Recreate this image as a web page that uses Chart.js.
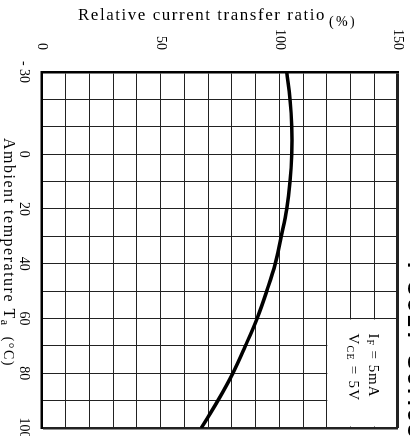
<!DOCTYPE html>
<html>
<head>
<meta charset="utf-8">
<script src="https://cdn.jsdelivr.net/npm/chart.js@4.4.1/dist/chart.umd.min.js"></script>
<style>
  html, body { margin: 0; padding: 0; background: #fff; overflow: hidden; }
  /* the datasheet plot is printed turned a quarter turn, so draw it upright and rotate */
  #wrap {
    position: absolute; left: 0; top: 0;
    width: 436px; height: 410px;
    transform-origin: 0 0;
    transform: translate(410px, 0) rotate(90deg);
  }
</style>
</head>
<body>
<div id="wrap"><canvas id="ctrChart" width="436" height="410"></canvas></div>
<script>
// Ambient temperature (degC) and relative CTR (%)
const temperatures = [-30, -20, -10, 0, 10, 20, 30, 40, 50, 60, 70, 80, 90, 100];
const ctrValues = [103.1, 104.5, 105.2, 105.2, 104.5, 103.1, 100.8, 98.3, 94.7, 90.6, 85.7, 80.4, 74.1, 67.1];

const tempTickLabels = [-30, 0, 20, 40, 60, 80, 100];
const ratioTickLabels = [0, 50, 100, 150];

const chartTitle = 'PC817 Series';
const xTitle = 'Ambient temperature T';
const yTitle = 'Relative current transfer ratio';

const points = temperatures.map((t, i) => ({ x: t, y: ctrValues[i] }));

// draw a run of text parts, spreading letters so the run fills targetWidth
function drawSpaced(ctx, parts, x, y, targetWidth) {
    let natural = 0, count = 0;
    parts.forEach(p => {
        ctx.font = p.font;
        natural += ctx.measureText(p.text).width;
        count += p.text.length;
    });
    const spacing = targetWidth ? (targetWidth - natural) / count : 0;
    let cx = x;
    parts.forEach(p => {
        ctx.font = p.font;
        ctx.letterSpacing = spacing + 'px';
        ctx.fillText(p.text, cx, y + (p.dy || 0));
        cx += ctx.measureText(p.text).width;
    });
    ctx.letterSpacing = '0px';
}

// labels sit well away from the frame; keep that gap out of the layout padding
function fixSize(prop, size) {
    return s => {
        s[prop] = size;
        s.paddingTop = s.paddingBottom = s.paddingLeft = s.paddingRight = 0;
    };
}

const decorations = {
    id: 'decorations',
    beforeDatasetsDraw(chart) {
        const { ctx, scales: { x, y } } = chart;
        // blank cell behind the test conditions
        ctx.save();
        ctx.fillStyle = '#fff';
        const left = x.getPixelForValue(60) + 1;
        const right = x.getPixelForValue(100) - 1.5;
        const top = y.getPixelForValue(150) + 2;
        const bottom = y.getPixelForValue(120) - 0.5;
        ctx.fillRect(left, top, right - left, bottom - top);
        ctx.restore();
    },
    afterDraw(chart) {
        const { ctx, scales: { x, y } } = chart;
        ctx.save();
        ctx.fillStyle = '#000';
        ctx.textBaseline = 'alphabetic';
        ctx.textAlign = 'left';

        // conditions
        const cx = x.getPixelForValue(60) + 15;
        drawSpaced(ctx, [
            { text: 'I', font: '15px "Liberation Serif"' },
            { text: 'F', font: '10px "Liberation Serif"', dy: 2 },
            { text: ' = 5mA', font: '15px "Liberation Serif"' }
        ], cx, 41, 64);
        drawSpaced(ctx, [
            { text: 'V', font: '15px "Liberation Serif"' },
            { text: 'CE', font: '10px "Liberation Serif"', dy: 2 },
            { text: ' = 5V', font: '15px "Liberation Serif"' }
        ], cx, 61, 68);

        // x axis title
        drawSpaced(ctx, [
            { text: xTitle, font: '16px "Liberation Serif"' },
            { text: 'a', font: '12px "Liberation Serif"', dy: 3 },
            { text: '  (\u00b0C)', font: '14px "Liberation Serif"' }
        ], 138, 406, 229);

        // y axis title, turned
        ctx.save();
        ctx.translate(20, 332);
        ctx.rotate(-Math.PI / 2);
        drawSpaced(ctx, [{ text: yTitle, font: '17px "Liberation Serif"' }], 0, 0, 248);
        drawSpaced(ctx, [{ text: '(%)', font: '14px "Liberation Serif"' }], 251, 6, 28);
        ctx.restore();

        // series header, cut by the page edge
        drawSpaced(ctx, [{ text: chartTitle, font: 'bold 22px "Liberation Sans"' }], 262, 2, 178);
        ctx.restore();
    }
};

const ctx = document.getElementById('ctrChart').getContext('2d');
const ctrChart = new Chart(ctx, {
    type: 'line',
    data: {
        datasets: [{
            data: points,
            borderColor: '#000',
            borderWidth: 3.5,
            pointRadius: 0,
            tension: 0.4,
            fill: false
        }]
    },
    options: {
        responsive: false,
        animation: false,
        devicePixelRatio: 1,
        layout: { autoPadding: false, padding: { top: 12, right: 8, left: 0, bottom: 0 } },
        plugins: { legend: { display: false }, tooltip: { enabled: false } },
        scales: {
            x: {
                type: 'linear',
                min: -30,
                max: 100,
                afterFit: fixSize('height', 42),
                ticks: {
                    stepSize: 10,
                    autoSkip: false,
                    maxRotation: 0,
                    padding: 10,
                    color: '#000',
                    font: { family: 'Liberation Serif', size: 14 },
                    callback: v => tempTickLabels.includes(v) ? (v < 0 ? '- ' + (-v) : v) : ''
                },
                grid: {
                    color: '#222',
                    lineWidth: c => c.tick && c.tick.value === 100 ? 2.5 : 1,
                    drawTicks: false
                },
                border: { display: true, color: '#000', width: 2.5 }
            },
            y: {
                min: 0,
                max: 150,
                afterFit: fixSize('width', 72),
                ticks: {
                    stepSize: 10,
                    autoSkip: false,
                    padding: 22,
                    color: '#000',
                    font: { family: 'Liberation Serif', size: 14 },
                    callback: v => ratioTickLabels.includes(v) ? v : ''
                },
                grid: {
                    color: '#222',
                    lineWidth: c => c.tick && c.tick.value === 150 ? 3 : 1,
                    drawTicks: false
                },
                border: { display: true, color: '#000', width: 2.5 }
            }
        }
    },
    plugins: [decorations]
});
</script>
</body>
</html>
